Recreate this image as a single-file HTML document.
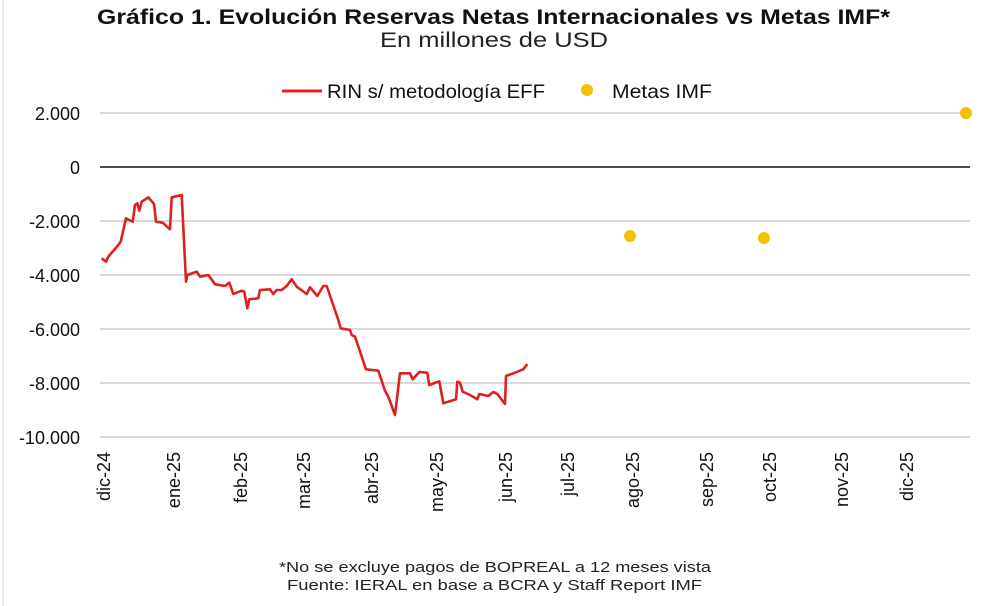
<!DOCTYPE html>
<html><head><meta charset="utf-8"><style>
html,body{margin:0;padding:0;background:#fff;}
svg{display:block;}
text{font-family:"Liberation Sans",sans-serif;}
</style></head><body>
<svg width="992" height="606" viewBox="0 0 992 606" xmlns="http://www.w3.org/2000/svg">
<rect width="992" height="606" fill="#fff"/>
<line x1="3" y1="0" x2="3" y2="606" stroke="#eee" stroke-width="2"/>
<text x="97" y="24" font-size="21" font-weight="bold" fill="#111" textLength="793" lengthAdjust="spacingAndGlyphs">Gráfico 1. Evolución Reservas Netas Internacionales vs Metas IMF*</text>
<text x="380" y="47" font-size="21" fill="#222" textLength="228" lengthAdjust="spacingAndGlyphs">En millones de USD</text>
<line x1="282" y1="91" x2="322" y2="91" stroke="#e0201e" stroke-width="3"/>
<text x="327" y="98" font-size="19" fill="#111" textLength="218" lengthAdjust="spacingAndGlyphs">RIN s/ metodología EFF</text>
<circle cx="587" cy="90" r="6" fill="#f5c000"/>
<text x="612" y="98" font-size="19" fill="#111" textLength="100" lengthAdjust="spacingAndGlyphs">Metas IMF</text>
<g stroke="#d9d9d9" stroke-width="2">
<line x1="100" y1="113" x2="970" y2="113"/>
<line x1="100" y1="221" x2="970" y2="221"/>
<line x1="100" y1="275" x2="970" y2="275"/>
<line x1="100" y1="329" x2="970" y2="329"/>
<line x1="100" y1="383" x2="970" y2="383"/>
<line x1="100" y1="437" x2="970" y2="437"/>
</g>
<line x1="100" y1="167" x2="970" y2="167" stroke="#111" stroke-width="1.5"/>
<g font-size="18" fill="#111" text-anchor="end">
<text x="80" y="120">2.000</text>
<text x="80" y="174">0</text>
<text x="80" y="228">-2.000</text>
<text x="80" y="282">-4.000</text>
<text x="80" y="336">-6.000</text>
<text x="80" y="390">-8.000</text>
<text x="80" y="444">-10.000</text>
</g>
<g font-size="18" fill="#111" text-anchor="end">
<text transform="translate(110,452) rotate(-90)">dic-24</text>
<text transform="translate(180,452) rotate(-90)">ene-25</text>
<text transform="translate(247,452) rotate(-90)">feb-25</text>
<text transform="translate(310,452) rotate(-90)">mar-25</text>
<text transform="translate(378,452) rotate(-90)">abr-25</text>
<text transform="translate(443,452) rotate(-90)">may-25</text>
<text transform="translate(512,452) rotate(-90)">jun-25</text>
<text transform="translate(574,452) rotate(-90)">jul-25</text>
<text transform="translate(639,452) rotate(-90)">ago-25</text>
<text transform="translate(713,452) rotate(-90)">sep-25</text>
<text transform="translate(776,452) rotate(-90)">oct-25</text>
<text transform="translate(848,452) rotate(-90)">nov-25</text>
<text transform="translate(913,452) rotate(-90)">dic-25</text>
</g>
<polyline fill="none" stroke="#e0201e" stroke-width="2.6" stroke-linejoin="round" points="101.7,258.3 106,261.7 108.3,256.7 118.3,245 120.7,241.7 126,218.3 129.3,220 132.7,221.7 135,205 137.3,203.3 139.3,210.7 141.7,201.7 148.3,197.3 154,204 156,221.7 162.7,222.7 170,229.3 171.7,197.3 181.7,195 186,281.7 187.3,275 196.7,271.7 200,276.7 208.3,275 215,284.3 225,286 229.3,282.7 233.3,294 241.7,290.7 244.3,291.7 247.3,308.3 249.3,299.3 258.3,298.3 260,290 270,289.3 273.3,294 276.7,290 281.7,290 286.7,286 291.7,279.3 296.7,286.7 306.7,294 310,287.3 317.3,296 323.3,286 326.7,286 338.3,320 340.7,328.3 350,330 351.7,335 355,336.7 366,369.3 378.3,370.7 385,390.7 388.3,396.7 395,415 400,373.3 410,373.3 412.7,379.3 419.3,372 427.3,372.7 429.3,385 439.3,381.3 443.3,403.3 456,399.3 457.3,381.7 460,382.7 462.7,391.7 470,395 477.3,399.3 479.3,394 488.3,396 493.3,392 497.3,394 505,404 506,376 515,372.7 520,370.7 523.3,369.3 527.3,364"/>
<circle cx="630" cy="236" r="6" fill="#f5c000"/>
<circle cx="764" cy="238" r="6" fill="#f5c000"/>
<circle cx="966" cy="113" r="6" fill="#f5c000"/>
<text x="279" y="572" font-size="15" fill="#222" textLength="432" lengthAdjust="spacingAndGlyphs">*No se excluye pagos de BOPREAL a 12 meses vista</text>
<text x="287" y="590" font-size="15" fill="#222" textLength="415" lengthAdjust="spacingAndGlyphs">Fuente: IERAL en base a BCRA y Staff Report IMF</text>
</svg>
</body></html>
